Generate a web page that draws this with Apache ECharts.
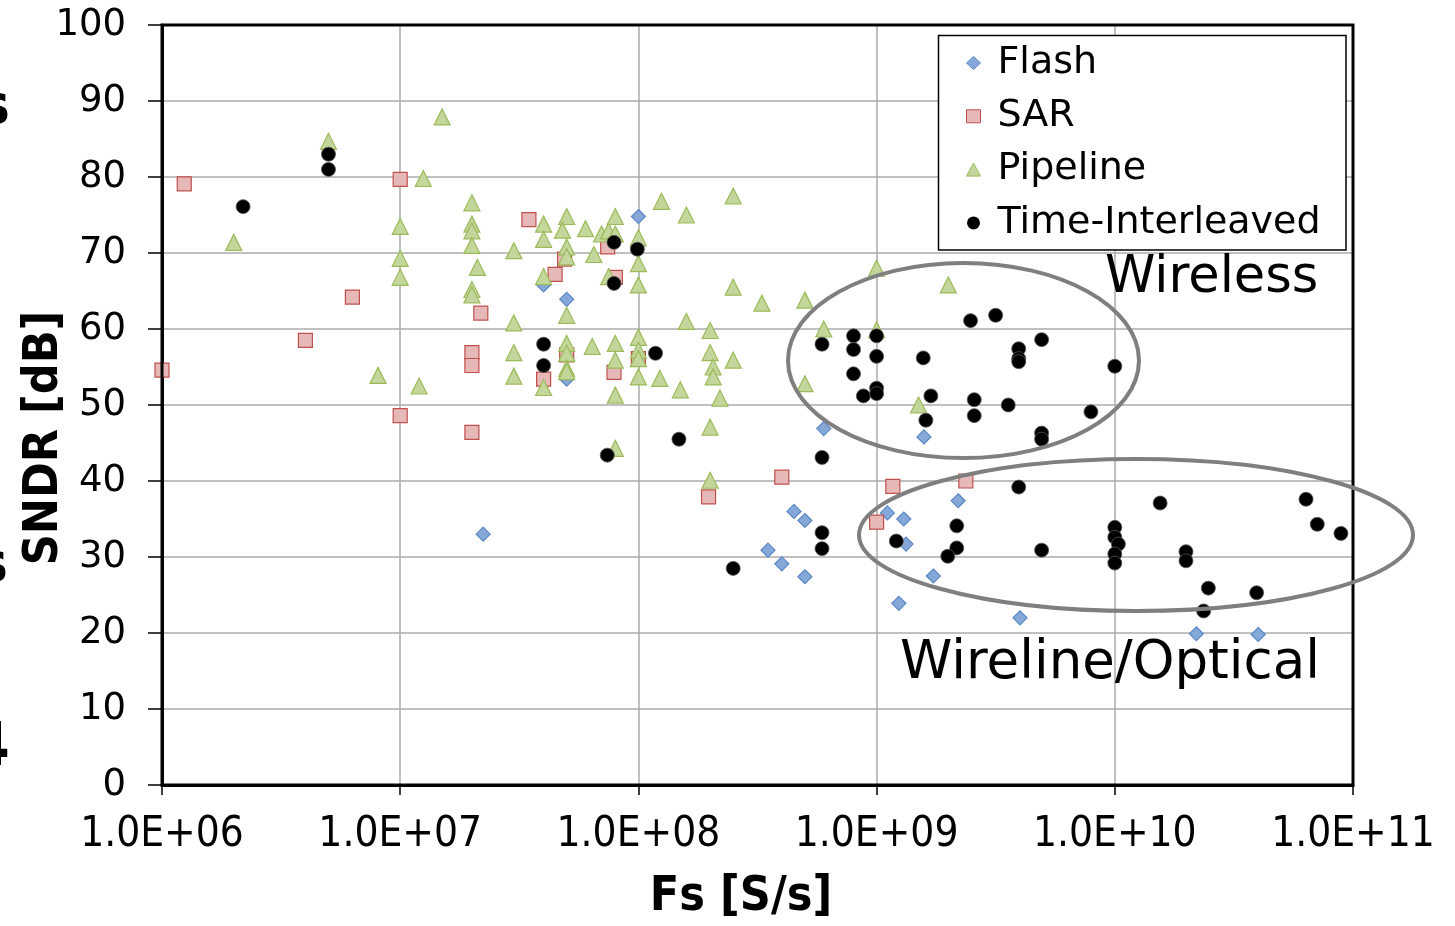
<!DOCTYPE html>
<html>
<head>
<meta charset="utf-8">
<script src="https://cdn.jsdelivr.net/npm/echarts@6/dist/echarts.min.js"></script>
<style>
  html, body { margin: 0; padding: 0; background: #fff; }
  #chart { width: 1455px; height: 926px; }
</style>
</head>
<body>
<div id="chart"></div>
<script>
// Flash ADCs
var fsFlash   = [2.23e7, 4.0e7, 5.0e7, 5.0e7, 1.0e8, 6.0e8, 4.5e8, 5.0e8, 3.5e8, 4.0e8, 5.0e8,
                 1.11e9, 1.3e9, 1.33e9, 1.24e9, 1.73e9, 2.2e9, 1.58e9, 4.0e9, 2.2e10, 4.0e10]
var sndrFlash = [33.0, 65.8, 63.9, 53.4, 74.8, 46.9, 36.0, 34.8, 30.9, 29.1, 27.4,
                 35.8, 35.0, 31.7, 23.9, 27.5, 37.4, 45.8, 22.0, 19.9, 19.8]

// SAR ADCs
var fsSar   = [1.0e6, 1.24e6, 4.0e6, 6.3e6, 1.0e7, 1.0e7, 2.0e7, 2.0e7, 2.0e7, 2.18e7, 3.47e7, 4.0e7,
               4.47e7, 4.9e7, 5.0e7, 7.43e7, 8.0e7, 7.9e7, 1.0e8, 1.97e8, 4.0e8, 1.0e9, 1.17e9, 2.37e9]
var sndrSar = [54.6, 79.1, 58.5, 64.2, 79.7, 48.6, 56.9, 55.2, 46.4, 62.1, 74.4, 53.4,
               67.2, 69.2, 56.6, 70.8, 66.8, 54.3, 56.1, 37.9, 40.5, 34.6, 39.3, 40.0]

// Pipeline ADCs
var fsPipe   = [2.0e6, 5.0e6, 8.07e6, 1.0e7, 1.0e7, 1.0e7, 1.2e7, 1.25e7, 1.5e7,
                2.0e7, 2.0e7, 2.0e7, 2.0e7, 2.11e7, 2.0e7, 2.0e7,
                3.0e7, 3.0e7, 3.0e7, 3.0e7, 4.0e7, 4.0e7, 4.0e7, 4.0e7,
                5.0e7, 4.8e7, 5.0e7, 5.0e7, 5.0e7, 5.0e7, 5.0e7, 5.0e7, 5.0e7,
                6.0e7, 6.5e7, 6.4e7, 7.0e7, 7.5e7, 8.0e7, 8.0e7, 7.5e7, 8.0e7, 8.0e7, 8.0e7, 8.0e7,
                1.0e8, 1.0e8, 1.0e8, 1.0e8, 1.0e8, 1.0e8, 1.0e8,
                1.25e8, 1.23e8, 1.59e8, 1.59e8, 1.5e8, 2.0e8, 2.0e8, 2.06e8, 2.06e8, 2.2e8, 2.0e8, 2.0e8,
                2.5e8, 2.5e8, 2.5e8, 3.3e8, 5.0e8, 5.0e8, 6.0e8, 1.0e9, 1.0e9, 1.5e9, 2.0e9]
var sndrPipe = [71.4, 84.7, 53.9, 73.5, 69.3, 66.8, 52.5, 79.8, 87.9,
                76.6, 73.8, 72.9, 71.0, 68.1, 65.2, 64.5,
                70.3, 60.8, 56.9, 53.8, 73.8, 71.8, 66.9, 52.3,
                74.8, 73.0, 70.8, 69.5, 61.8, 58.1, 56.8, 54.8, 54.4,
                73.2, 69.8, 57.7, 72.5, 72.9, 72.5, 74.8, 66.9, 58.1, 55.9, 51.3, 44.3,
                72.0, 68.6, 65.8, 58.9, 57.2, 56.1, 53.7,
                76.8, 53.5, 75.0, 61.0, 52.0, 59.8, 56.9, 55.0, 53.7, 50.9, 47.1, 40.1,
                77.5, 65.5, 55.9, 63.4, 63.8, 52.8, 60.0, 68.0, 59.9, 50.0, 65.8]

// Time-interleaved ADCs
var fsTi   = [2.19e6, 5.0e6, 5.0e6, 4.0e7, 4.0e7, 7.4e7, 7.9e7, 7.9e7, 9.9e7, 1.18e8, 1.48e8, 2.5e8,
              5.9e8, 5.9e8, 5.9e8, 5.9e8, 8.0e8, 8.0e8, 8.0e8, 8.8e8, 1.0e9, 1.0e9, 1.0e9, 1.0e9,
              1.57e9, 1.69e9, 1.61e9, 2.48e9, 3.16e9, 2.57e9, 2.57e9, 3.57e9, 4.93e9, 3.95e9, 3.95e9, 3.95e9,
              1.0e10, 7.94e9, 4.93e9, 4.93e9,
              1.21e9, 2.17e9, 2.17e9, 1.99e9, 3.95e9, 4.93e9, 1.0e10, 1.0e10, 1.035e10, 1.0e10, 1.0e10,
              1.55e10, 1.99e10, 1.99e10, 2.47e10, 2.36e10, 3.94e10, 6.35e10, 7.08e10, 8.9e10]
var sndrTi = [76.1, 83.0, 81.0, 58.0, 55.2, 43.4, 71.4, 66.0, 70.5, 56.8, 45.5, 28.5,
              58.0, 43.1, 33.2, 31.1, 59.1, 57.3, 54.1, 51.2, 59.1, 56.4, 52.2, 51.5,
              56.2, 51.2, 48.0, 61.1, 61.8, 50.7, 48.6, 50.0, 58.6, 57.4, 56.1, 55.7,
              55.1, 49.1, 46.3, 45.5,
              32.1, 34.1, 31.2, 30.1, 39.2, 30.9, 33.9, 32.6, 31.7, 30.4, 29.2,
              37.1, 30.7, 29.5, 25.9, 22.9, 25.3, 37.6, 34.3, 33.1]

var fsMin = 1e6, fsMax = 1e11

function zip(a, b) {
    return a.map(function (v, i) { return [v, b[i]] })
}

function sci(v) {
    var e = Math.round(Math.log10(v))
    return '1.0E+' + (e < 10 ? '0' : '') + e
}

var chart = echarts.init(document.getElementById('chart'))

var option = {
    backgroundColor: '#fff',
    animation: false,
    grid: { left: 162, top: 25, right: 102, bottom: 141 },
    xAxis: {
        type: 'log',
        logBase: 10,
        min: fsMin,
        max: fsMax,
        axisLine: { lineStyle: { color: '#000', width: 3 } },
        axisTick: { show: true, length: 10, lineStyle: { color: '#000', width: 1.5 } },
        minorTick: { show: false },
        splitLine: { show: true, lineStyle: { color: '#ababab', width: 1.5 } },
        axisLabel: {
            formatter: sci,
            margin: 29,
            color: '#000',
            fontFamily: 'DejaVu Sans Condensed',
            fontSize: 42
        }
    },
    yAxis: {
        type: 'value',
        min: 0,
        max: 100,
        interval: 10,
        axisLine: { show: true, lineStyle: { color: '#000', width: 3 } },
        axisTick: { show: true, length: 14, lineStyle: { color: '#000', width: 1.5 } },
        splitLine: { show: true, lineStyle: { color: '#ababab', width: 1.5 } },
        axisLabel: {
            margin: 36,
            color: '#000',
            fontFamily: 'DejaVu Sans',
            fontSize: 37
        }
    },
    legend: {
        orient: 'vertical',
        left: 966,
        top: 43,
        padding: 0,
        itemWidth: 14,
        itemHeight: 13,
        itemGap: 13.3,
        z: 10,
        textStyle: { fontFamily: 'DejaVu Sans', fontSize: 38, lineHeight: 40, color: '#000',
                     padding: [0, 0, 0, 12] },
        data: [
            { name: 'Flash', icon: 'diamond', itemStyle: { color: '#86a8d8', borderColor: '#5a88c6', borderWidth: 1 } },
            { name: 'SAR', icon: 'rect', itemStyle: { color: '#e6b9b8', borderColor: '#c0504d', borderWidth: 1 } },
            { name: 'Pipeline', icon: 'triangle', itemStyle: { color: '#c3d69b', borderColor: '#9bbb59', borderWidth: 1 } },
            { name: 'Time-Interleaved', icon: 'circle', itemStyle: { color: '#000', borderColor: '#000', borderWidth: 0 } }
        ]
    },
    series: [
        {
            name: 'Flash', type: 'scatter', symbol: 'diamond', symbolSize: 14, clip: false,
            itemStyle: { color: '#86a8d8', borderColor: '#5a88c6', borderWidth: 1.2, opacity: 1 },
            data: zip(fsFlash, sndrFlash)
        },
        {
            name: 'SAR', type: 'scatter', symbol: 'rect', symbolSize: 14, clip: false,
            itemStyle: { color: '#e6b9b8', borderColor: '#c0504d', borderWidth: 1.2, opacity: 1 },
            data: zip(fsSar, sndrSar)
        },
        {
            name: 'Pipeline', type: 'scatter', symbol: 'triangle', symbolSize: 16, clip: false,
            itemStyle: { color: '#c3d69b', borderColor: '#9bbb59', borderWidth: 1.2, opacity: 1 },
            data: zip(fsPipe, sndrPipe)
        },
        {
            name: 'Time-Interleaved', type: 'scatter', symbol: 'circle', symbolSize: 14, clip: false,
            itemStyle: { color: '#000', borderColor: '#555', borderWidth: 0.8, opacity: 1 },
            data: zip(fsTi, sndrTi)
        }
    ],
    graphic: [
        // plot frame
        {
            type: 'rect', z: 15, silent: true,
            shape: { x: 162, y: 25, width: 1191, height: 760 },
            style: { fill: 'none', stroke: '#000', lineWidth: 3 }
        },
        // legend frame
        {
            type: 'rect', z: 5,
            shape: { x: 938.5, y: 35.5, width: 407.5, height: 214.5 },
            style: { fill: '#fff', stroke: '#000', lineWidth: 1.5 }
        },
        // region ellipses
        {
            type: 'ellipse', z: 20,
            shape: { cx: 963.5, cy: 360.5, rx: 175.5, ry: 97.5 },
            style: { fill: 'none', stroke: '#7f7f7f', lineWidth: 4 }
        },
        {
            type: 'ellipse', z: 20,
            shape: { cx: 1136, cy: 535, rx: 277, ry: 76 },
            style: { fill: 'none', stroke: '#7f7f7f', lineWidth: 4 }
        },
        {
            type: 'text', z: 30,
            style: { text: 'Wireless', x: 1105, y: 279, textAlign: 'left', textVerticalAlign: 'middle',
                     font: '51px "DejaVu Sans"', fill: '#000' }
        },
        {
            type: 'text', z: 30,
            style: { text: 'Wireline/Optical', x: 900, y: 664, textAlign: 'left', textVerticalAlign: 'middle',
                     font: '53px "DejaVu Sans"', fill: '#000' }
        },
        // axis titles
        {
            type: 'text', z: 30, x: 45, y: 438, rotation: Math.PI / 2,
            style: { text: 'SNDR [dB]', x: 0, y: 0, textAlign: 'center', textVerticalAlign: 'middle',
                     font: 'bold 48px "DejaVu Sans Condensed"', fill: '#000' }
        },
        {
            type: 'text', z: 30,
            style: { text: 'Fs [S/s]', x: 741, y: 898, textAlign: 'center', textVerticalAlign: 'middle',
                     font: 'bold 48px "DejaVu Sans Condensed"', fill: '#000' }
        },
        // slide text cut off at the left edge
        {
            type: 'text', z: 30,
            style: { text: 's', x: 10, y: 108, textAlign: 'right', textVerticalAlign: 'middle',
                     font: 'bold 56px "DejaVu Sans"', fill: '#000' }
        },
        {
            type: 'text', z: 30,
            style: { text: 's', x: 8, y: 566, textAlign: 'right', textVerticalAlign: 'middle',
                     font: 'bold 56px "DejaVu Sans"', fill: '#000' }
        },
        {
            type: 'text', z: 30,
            style: { text: '4', x: 10, y: 749, textAlign: 'right', textVerticalAlign: 'middle',
                     font: 'bold 60px "DejaVu Sans"', fill: '#000' }
        }
    ]
}

chart.setOption(option)
</script>
</body>
</html>
